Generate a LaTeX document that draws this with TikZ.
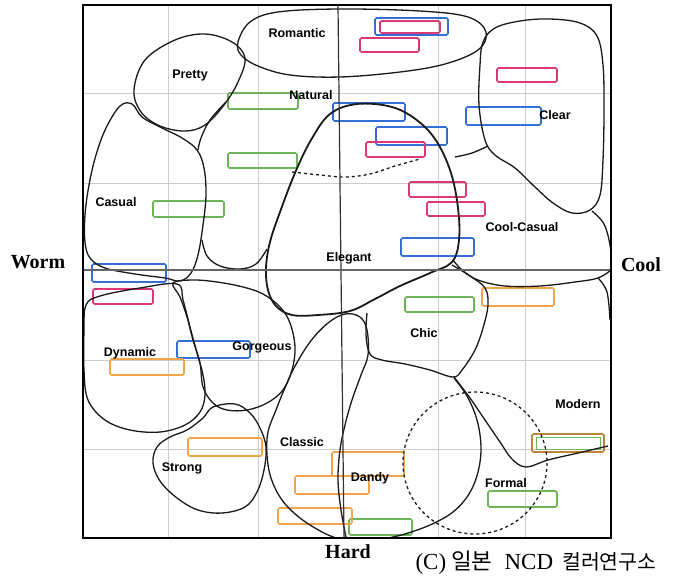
\documentclass[tikz,border=0pt]{standalone}
\usepackage{fontspec}
\setmainfont{Liberation Serif}
\setsansfont{Liberation Sans}
\newfontfamily\krfont{Noto Sans CJK KR}
\definecolor{bxblue}{RGB}{52,110,214}
\definecolor{bxpink}{RGB}{218,56,118}
\definecolor{bxgreen}{RGB}{110,180,90}
\definecolor{bxorange}{RGB}{240,165,75}
\definecolor{gridgray}{RGB}{205,205,205}

\begin{document}
\begin{tikzpicture}[x=1pt, y=-1pt,
  region/.style={draw=black!90, line width=1.3pt},
  kw/.style={font=\fontsize{12.5}{12.5}\selectfont\sffamily\bfseries, inner sep=0pt},
  axlab/.style={font=\fontsize{20}{20}\selectfont\bfseries, inner sep=0pt},
  bx/.style={line width=1.6pt, rounded corners=1.5pt}]
\fill[white] (0,0) rectangle (678,579);
\useasboundingbox (0,0) rectangle (678,579);
% grid
\draw[gridgray, line width=0.6pt] (168,5) -- (168,538);
\draw[gridgray, line width=0.6pt] (258,5) -- (258,538);
\draw[gridgray, line width=0.6pt] (438,5) -- (438,538);
\draw[gridgray, line width=0.6pt] (525,5) -- (525,538);
\draw[gridgray, line width=0.6pt] (83,93) -- (611,93);
\draw[gridgray, line width=0.6pt] (83,183) -- (611,183);
\draw[gridgray, line width=0.6pt] (83,360) -- (611,360);
\draw[gridgray, line width=0.6pt] (83,449) -- (611,449);
% boxes
\draw[bx, bxblue] (375,18) rectangle (448,35);
\draw[bx, bxblue] (333,103) rectangle (405,121);
\draw[bx, bxblue] (466,107) rectangle (541,125);
\draw[bx, bxblue] (376,127) rectangle (447,145);
\draw[bx, bxblue] (401,238) rectangle (474,256);
\draw[bx, bxblue] (92,264) rectangle (166,282);
\draw[bx, bxblue] (177,341) rectangle (250,358);
\draw[bx, bxpink] (380,21) rectangle (440,33);
\draw[bx, bxpink] (360,38) rectangle (419,52);
\draw[bx, bxpink] (497,68) rectangle (557,82);
\draw[bx, bxpink] (366,142) rectangle (425,157);
\draw[bx, bxpink] (409,182) rectangle (466,197);
\draw[bx, bxpink] (427,202) rectangle (485,216);
\draw[bx, bxpink] (93,289) rectangle (153,304);
\draw[bx, bxgreen] (228,93) rectangle (298,109);
\draw[bx, bxgreen] (228,153) rectangle (297,168);
\draw[bx, bxgreen] (153,201) rectangle (224,217);
\draw[bx, bxgreen] (405,297) rectangle (474,312);
\draw[bx, bxgreen] (488,491) rectangle (557,507);
\draw[bx, bxgreen] (349,519) rectangle (412,535);
\draw[bx, bxorange] (110,359) rectangle (184,375);
\draw[bx, bxorange] (188,438) rectangle (262,456);
\draw[bx, bxorange] (482,288) rectangle (554,306);
\draw[bx, bxorange] (332,452) rectangle (404,476);
\draw[bx, bxorange] (295,476) rectangle (369,494);
\draw[bx, bxorange] (278,508) rectangle (352,524);
\draw[bx, bxorange!80!black] (532,434) rectangle (604,452);
\draw[line width=1pt, bxgreen] (536,437) rectangle (600,449);
% regions
\draw[region] plot[smooth cycle, tension=0.6] coordinates {(238,42) (250,22) (278,12) (340,9) (420,11) (468,17) (486,32) (478,50) (445,64) (400,72) (340,77) (290,75) (258,66) (241,55)};
\draw[region] plot[smooth cycle, tension=0.6] coordinates {(134,90) (145,60) (175,40) (205,34) (232,42) (245,58) (238,82) (224,105) (205,125) (185,131) (160,126) (141,112)};
\draw[region] plot[smooth cycle, tension=0.6] coordinates {(132,104) (120,106) (106,128) (96,155) (89,185) (85,215) (85,242) (90,258) (105,268) (135,274) (165,278) (180,281) (191,273) (198,255) (203,225) (206,195) (204,168) (197,150) (182,138) (160,127) (142,117)};
\draw[region] plot[smooth, tension=0.6] coordinates {(226,102) (210,120) (201,138) (198,150)};
\draw[region] plot[smooth, tension=0.6] coordinates {(202,240) (207,256) (220,266) (240,269) (256,264) (267,249)};
\draw[region, line width=1.8pt] plot[smooth cycle, tension=0.6] coordinates {(357,104) (392,107) (418,121) (437,142) (451,173) (458,208) (459,240) (452,262) (430,273) (400,286) (375,299) (350,311) (318,315) (292,315) (276,306) (268,290) (266,268) (270,242) (280,212) (295,173) (311,140) (330,114)};
\draw[region, dashed] plot[smooth, tension=0.6] coordinates {(292,172) (320,175) (345,177) (370,174) (395,166) (420,159)};
\draw[region] plot[smooth cycle, tension=0.6] coordinates {(483,42) (495,28) (520,21) (550,19) (580,23) (597,36) (603,65) (604,110) (603,160) (600,195) (590,210) (572,213) (553,203) (535,187) (515,168) (495,155) (485,140) (479,105) (480,65)};
\draw[region] plot[smooth, tension=0.6] coordinates {(455,157) (472,153) (488,146)};
\draw[region] plot[smooth, tension=0.6] coordinates {(592,211) (604,224) (610,245) (611,262)};
\draw[region] plot[smooth, tension=0.6] coordinates {(453,260) (462,270) (478,280) (505,286) (540,286) (575,282) (598,278) (611,270)};
\draw[region] plot[smooth, tension=0.6] coordinates {(598,278) (607,292) (610,320)};
\draw[region] plot[smooth, tension=0.6] coordinates {(454,377) (470,398) (485,420) (500,442) (512,459) (526,467) (548,460) (578,453) (608,446)};
\draw[region] plot[smooth, tension=0.6] coordinates {(452,265) (470,276) (485,288) (488,305) (483,328) (475,350) (462,370) (453,377) (430,370) (405,364) (382,360) (370,354) (366,335) (367,313)};
\draw[region] plot[smooth, tension=0.6] coordinates {(346,537) (341,510) (338,480) (340,450) (345,425) (352,400) (361,375) (368,355) (367,330) (360,317) (345,314) (328,323) (310,342) (294,368) (284,390) (276,410) (268,432) (267,455) (271,478) (282,500) (300,518) (322,532) (336,538)};
\draw[region] plot[smooth cycle, tension=0.6] coordinates {(173,283) (193,280) (217,282) (243,287) (263,294) (280,307) (290,323) (295,347) (292,370) (283,390) (267,403) (247,410) (227,410) (213,403) (203,387) (200,363) (193,340) (187,317) (180,297)};
\draw[region] plot[smooth cycle, tension=0.6] coordinates {(213,407) (235,404) (250,413) (260,428) (266,447) (264,470) (257,492) (245,507) (222,513) (198,510) (177,498) (160,481) (153,463) (157,447) (170,437) (187,430) (203,418)};
\draw[region] plot[smooth cycle, tension=0.6] coordinates {(86,305) (100,296) (140,288) (177,284) (183,300) (190,327) (197,353) (203,375) (205,395) (200,412) (185,425) (160,432) (130,430) (105,420) (88,400) (84,370) (84,330)};
\draw[region] plot[smooth, tension=0.6] coordinates {(454,378) (467,396) (477,420) (481,447) (478,472) (469,494) (453,512) (430,525) (405,534) (388,538)};
\draw[region, dashed] (475,463) ellipse [x radius=72, y radius=71];
% axes and frame
\draw[black!80, line width=1.2pt] (338,5) -- (344,538);
\draw[black!60, line width=1.5pt] (83,270) -- (611,270);
\draw[line width=2pt] (83,5) rectangle (611,538);
% labels
\node[kw] (romantic) at (297,33) {Romantic};
\node[kw] (pretty) at (190,75) {Pretty};
\node[kw] (natural) at (311,95) {Natural};
\node[kw] (casual) at (116,202) {Casual};
\node[kw] (clear) at (555,115) {Clear};
\node[kw] (coolcasual) at (522,227) {Cool-Casual};
\node[kw] (elegant) at (349,258) {Elegant};
\node[kw] (dynamic) at (130,353) {Dynamic};
\node[kw] (gorgeous) at (262,347) {Gorgeous};
\node[kw] (chic) at (424,333) {Chic};
\node[kw] (modern) at (578,404) {Modern};
\node[kw] (classic) at (302,442) {Classic};
\node[kw] (strong) at (182,468) {Strong};
\node[kw] (dandy) at (370,478) {Dandy};
\node[kw] (formal) at (506,483) {Formal};
\node[axlab] (worm) at (38,262) {Worm};
\node[axlab] (cool) at (641,265) {Cool};
\node[axlab] (hard) at (348,552) {Hard};
\node[font=\fontsize{23}{23}\selectfont, inner sep=0pt] (credit) at (536,563) {(C)\hspace{5pt}{\krfont\fontsize{22.5}{22.5}\selectfont 일본}\hspace{12pt}NCD\hspace{9pt}{\krfont\fontsize{20.5}{20.5}\selectfont 컬러연구소}};
\end{tikzpicture}
\end{document}
